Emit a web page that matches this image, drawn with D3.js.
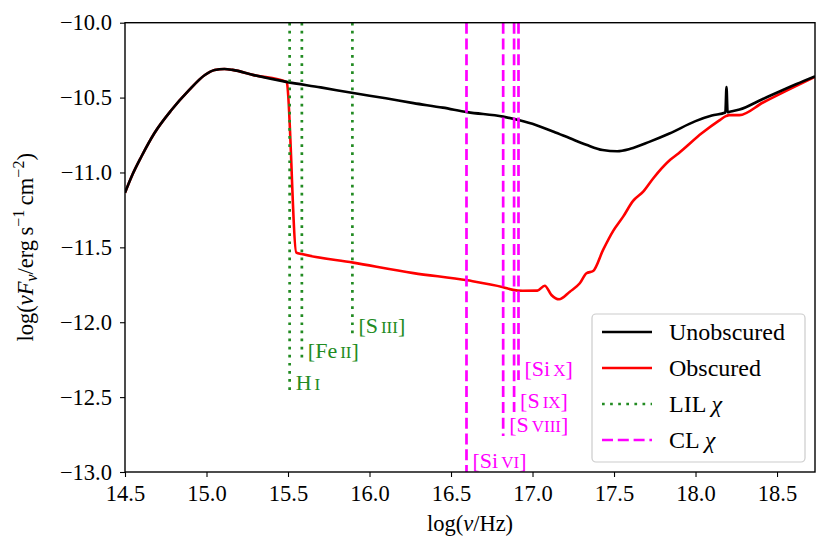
<!DOCTYPE html>
<html>
<head>
<meta charset="utf-8">
<script src="https://cdn.jsdelivr.net/npm/d3@7"></script>
<style>
  body { margin: 0; background: white; }
  text { font-family: "Liberation Serif", "DejaVu Serif", serif; }
</style>
</head>
<body>
<svg id="chart" width="830" height="556"></svg>
<script>
// tick labels
var xTicks = [14.5, 15.0, 15.5, 16.0, 16.5, 17.0, 17.5, 18.0, 18.5]
var yTicks = [-13.0, -12.5, -12.0, -11.5, -11.0, -10.5, -10.0]

// unobscured SED (log nu, log nuFnu)
var unobsNu = [14.50, 14.54, 14.60, 14.68, 14.785, 14.89, 14.99, 15.05, 15.11, 15.16, 15.29, 15.49, 15.70,
    15.90, 16.10, 16.27, 16.45, 16.60, 16.82, 16.92, 17.02, 17.13, 17.23, 17.33, 17.43, 17.52, 17.60, 17.72,
    17.84, 18.00, 18.10, 18.183, 18.19, 18.197, 18.21, 18.27, 18.41, 18.62, 18.733]
var unobsFlux = [-11.135, -11.028, -10.895, -10.738, -10.583, -10.454, -10.349, -10.316, -10.309, -10.315,
    -10.35, -10.395, -10.432, -10.47, -10.505, -10.537, -10.567, -10.597, -10.627, -10.652, -10.683, -10.728,
    -10.772, -10.815, -10.85, -10.858, -10.842, -10.794, -10.74, -10.657, -10.62, -10.60, -10.43, -10.598,
    -10.595, -10.58, -10.511, -10.409, -10.358]

// obscured SED
var obsNu = [14.50, 14.54, 14.60, 14.68, 14.785, 14.89, 14.99, 15.05, 15.11, 15.16, 15.29, 15.49, 15.493,
    15.551, 15.585, 15.90, 16.27, 16.60, 16.82, 16.88, 16.94, 17.03, 17.075, 17.116, 17.163, 17.229, 17.29,
    17.331, 17.372, 17.433, 17.495, 17.556, 17.617, 17.679, 17.74, 17.843, 17.895, 18.04, 18.144, 18.186,
    18.207, 18.269, 18.414, 18.622, 18.733]
var obsFlux = [-11.135, -11.028, -10.895, -10.738, -10.583, -10.454, -10.349, -10.316, -10.309, -10.315,
    -10.35, -10.395, -10.40, -11.535, -11.545, -11.602, -11.672, -11.72, -11.766, -11.784, -11.79, -11.789,
    -11.756, -11.818, -11.847, -11.796, -11.74, -11.673, -11.658, -11.517, -11.39, -11.295, -11.19, -11.128,
    -11.04, -10.917, -10.873, -10.737, -10.654, -10.624, -10.617, -10.617, -10.533, -10.42, -10.362]

// low ionisation lines
var lilNames = ['H I', '[Fe II]', '[S III]']
var lilNu = [15.51, 15.585, 15.895]
var lilMin = [-12.48, -12.265, -12.097]

// coronal lines
var clNames = ['[Si VI]', '[S VIII]', '[S IX]', '[Si X]']
var clNu = [16.595, 16.82, 16.887, 16.914]
var clMin = [-13.0, -12.76, -12.6, -12.385]

var svg = d3.select('#chart')
var plotL = 125, plotR = 815, plotT = 22.7, plotB = 472
var fs = 22.5

var x = d3.scaleLinear().domain([14.5, 18.733]).range([plotL, plotR])
var y = d3.scaleLinear().domain([-13, -10]).range([plotB, plotT])

svg.append('defs').append('clipPath').attr('id', 'clip')
    .append('rect').attr('x', plotL).attr('y', plotT)
    .attr('width', plotR - plotL).attr('height', plotB - plotT)

var plot = svg.append('g').attr('clip-path', 'url(#clip)')

var minus = function(v) { return d3.format('.1f')(v).replace('-', '\u2212') }

// curves (obscured under unobscured)
var lineRed = d3.line()
    .x(function(d, i) { return x(obsNu[i]) })
    .y(function(d) { return y(d) })
    .curve(d3.curveMonotoneX)
plot.append('path').datum(obsFlux)
    .attr('d', lineRed)
    .attr('fill', 'none').attr('stroke', '#ff0000').attr('stroke-width', 2.6)
    .attr('stroke-linejoin', 'round')

var lineBlack = d3.line()
    .x(function(d, i) { return x(unobsNu[i]) })
    .y(function(d) { return y(d) })
    .curve(d3.curveMonotoneX)
plot.append('path').datum(unobsFlux)
    .attr('d', lineBlack)
    .attr('fill', 'none').attr('stroke', '#000').attr('stroke-width', 2.6)
    .attr('stroke-linejoin', 'round')

// vertical line markers
plot.selectAll('line.lil').data(lilNu).enter().append('line')
    .attr('class', 'lil')
    .attr('x1', function(d) { return x(d) }).attr('x2', function(d) { return x(d) })
    .attr('y1', y(-10)).attr('y2', function(d, i) { return y(lilMin[i]) })
    .style('stroke', '#228b22').style('stroke-width', 2.7)
    .style('stroke-dasharray', '2.7 5.4')

plot.selectAll('line.cl').data(clNu).enter().append('line')
    .attr('class', 'cl')
    .attr('x1', function(d) { return x(d) }).attr('x2', function(d) { return x(d) })
    .attr('y1', y(-10)).attr('y2', function(d, i) { return y(clMin[i]) })
    .style('stroke', '#ff00ff').style('stroke-width', 2.7)
    .style('stroke-dasharray', '11 4.8')

// labels with small-caps ionisation stage
function addLabel(name, nu, ymin, color) {
    var parts = name.split(' ')
    var ion = parts[1].replace(']', '')
    var t = svg.append('text')
        .attr('x', x(nu) + 6).attr('y', y(ymin) - 4)
        .style('font-size', '22px').style('fill', color)
    t.append('tspan').text(parts[0])
    t.append('tspan').attr('dx', 3).style('font-size', '17px').text(ion)
    if (parts[1].indexOf(']') >= 0) t.append('tspan').text(']')
}
lilNames.forEach(function(n, i) { addLabel(n, lilNu[i], lilMin[i], '#228b22') })
clNames.forEach(function(n, i) { addLabel(n, clNu[i], clMin[i], '#ff00ff') })

// axes
var xAxis = svg.append('g').attr('transform', 'translate(0,' + plotB + ')')
    .call(d3.axisBottom(x).tickValues(xTicks).tickSize(5).tickPadding(8).tickFormat(minus))
var yAxis = svg.append('g').attr('transform', 'translate(' + plotL + ',0)')
    .call(d3.axisLeft(y).tickValues(yTicks).tickSize(5).tickPadding(8).tickFormat(minus))
;[xAxis, yAxis].forEach(function(a) {
    a.select('.domain').remove()
    a.selectAll('line').style('stroke', '#000').style('stroke-width', 1.1)
    a.selectAll('text').style('font-size', fs + 'px').style('fill', '#000')
        .style('font-family', '"Liberation Serif", serif')
})
svg.append('rect').attr('x', plotL).attr('y', plotT)
    .attr('width', plotR - plotL).attr('height', plotB - plotT)
    .attr('fill', 'none').attr('stroke', '#000').attr('stroke-width', 1.4)

// axis titles
var xl = svg.append('text').attr('x', (plotL + plotR) / 2).attr('y', 531)
    .attr('text-anchor', 'middle').style('font-size', fs + 'px')
xl.append('tspan').text('log(')
xl.append('tspan').style('font-style', 'italic').text('\u03bd')
xl.append('tspan').text('/Hz)')

var yl = svg.append('text')
    .attr('transform', 'translate(33,' + ((plotT + plotB) / 2) + ') rotate(-90)')
    .attr('text-anchor', 'middle').style('font-size', fs + 'px')
yl.append('tspan').text('log(')
yl.append('tspan').style('font-style', 'italic').text('\u03bdF')
yl.append('tspan').style('font-style', 'italic').style('font-size', '16px').attr('dy', 4).text('\u03bd')
yl.append('tspan').attr('dy', -4).text('/erg\u2009s')
yl.append('tspan').style('font-size', '16px').attr('dy', -9).text('\u22121')
yl.append('tspan').attr('dy', 9).text('\u2009cm')
yl.append('tspan').style('font-size', '16px').attr('dy', -9).text('\u22122')
yl.append('tspan').attr('dy', 9).text(')')

// legend
var legNames = ['Unobscured', 'Obscured', 'LIL \u03c7', 'CL \u03c7']
var legColors = ['#000', '#ff0000', '#228b22', '#ff00ff']
var legDash = [null, null, '2.7 5.4', '11 4.8']
var lg = svg.append('g')
lg.append('rect').attr('x', 592).attr('y', 314).attr('width', 213).attr('height', 148)
    .attr('rx', 4).attr('fill', 'white').attr('fill-opacity', 0.8)
    .attr('stroke', '#cccccc').attr('stroke-width', 1.2)
legNames.forEach(function(n, i) {
    var cy = 332 + i * 36
    lg.append('line').attr('x1', 602).attr('x2', 652).attr('y1', cy).attr('y2', cy)
        .style('stroke', legColors[i]).style('stroke-width', 2.7)
        .style('stroke-dasharray', legDash[i])
    var t = lg.append('text').attr('x', 669).attr('y', cy + 8).style('font-size', '24px')
    if (n.indexOf('\u03c7') >= 0) {
        t.append('tspan').text(n.replace(' \u03c7', ' '))
        t.append('tspan').style('font-style', 'italic').text('\u03c7')
    } else {
        t.text(n)
    }
})
</script>
</body>
</html>
